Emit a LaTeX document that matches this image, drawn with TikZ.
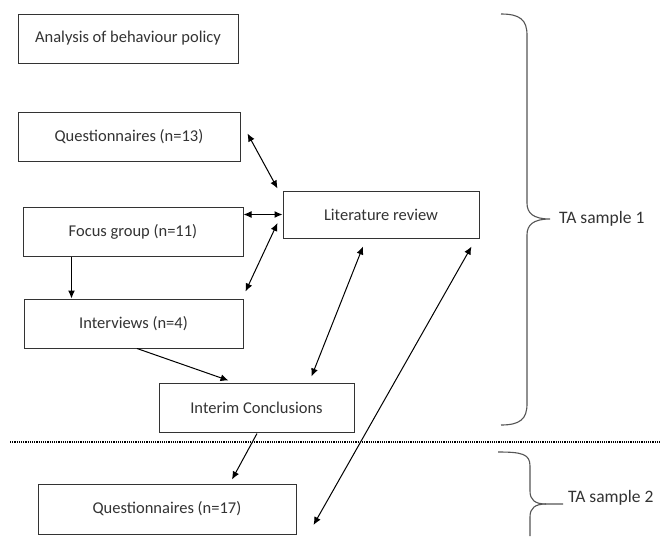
\documentclass[tikz,border=0pt]{standalone}
\usepackage{fontspec}
\setmainfont{Carlito}
\usetikzlibrary{arrows.meta,calc}
\definecolor{boxline}{HTML}{333333}
\definecolor{bracecol}{HTML}{555555}
\begin{document}
\begin{tikzpicture}[x=1pt,y=-1pt,
  box/.style={draw=boxline,line width=1pt,rectangle,inner sep=0pt,align=center,
    font=\fontsize{16.5}{18}\selectfont,text=black!80},
  conn/.style={line width=1pt,-{Latex[length=8pt,width=7pt]}},
  dconn/.style={line width=1pt,{Latex[length=8pt,width=7pt]}-{Latex[length=8pt,width=7pt]}},
  bracestyle/.style={draw=bracecol,line width=1.1pt},
  lab/.style={anchor=west,font=\fontsize{17.5}{19}\selectfont,text=black!80,inner sep=0pt}]
\useasboundingbox[fill=white] (0,0) rectangle (661,536);

\node[box,minimum width=220,minimum height=49] (abp) at (128,38.5) {Analysis of behaviour policy};
\node[box,minimum width=222,minimum height=49] (q13) at (129,136.5) {Questionnaires (n=13)};
\node[box,minimum width=220,minimum height=49] (fg) at (133,231.5) {Focus group (n=11)};
\node[box,minimum width=196,minimum height=47] (lit) at (381,214.5) {Literature review};
\node[box,minimum width=219,minimum height=49] (iv) at (133.5,323.5) {Interviews (n=4)};
\node[box,minimum width=195,minimum height=49] (ic) at (256.5,407.5) {Interim Conclusions};
\node[box,minimum width=258,minimum height=50] (q17) at (167,509) {Questionnaires (n=17)};

% connectors
\draw[dconn] ($(q13.east)+(7,-3)$) -- ($(lit.north west)+(-5,-2)$);
\draw[dconn] (fg.east |- lit.west) -- (lit.west);
\draw[dconn] ($(iv.north east)+(2,-7)$) -- ($(lit.west)+(-5,8.5)$);
\draw[conn] ($(fg.south west)+(49,0)$) -- ($(iv.north west)+(48,0)$);
\draw[conn] ($(iv.south)+(3.5,0)$) -- ($(ic.north west)+(70,-2)$);
\draw[dconn] ($(lit.south)+(-18,8)$) -- ($(ic.north east)+(-43,-6)$);
\draw[dconn] ($(lit.south east)+(-8,8)$) -- ($(q17.east)+(17,16)$);
\draw[conn] ($(ic.south)+(0.5,1)$) -- ($(q17.north)+(65,-4)$);

% dotted separator
\coordinate (dl) at (10,442);
\coordinate (dr) at (661,442);
\draw[line width=1.6pt,dash pattern=on 1.1pt off 1.1pt] (dl) -- (dr);

% braces
\draw[bracestyle] (501,14) .. controls (520,14) and (527,20) .. (527,35)
  -- (527,203) .. controls (527,213) and (533,219) .. (550,219)
  .. controls (533,219) and (527,225) .. (527,235)
  -- (527,404) .. controls (527,419) and (520,425) .. (501,425);
\draw[bracestyle] (498,452) .. controls (522,452) and (530,454) .. (530,466)
  -- (530,491) .. controls (530,500) and (535,504) .. (546,504) -- (563,504);
\draw[bracestyle] (546,504) .. controls (535,504) and (530,508) .. (530,517) -- (530,536);

\node[lab] (ta1) at (559,219) {TA sample 1};
\node[lab] (ta2) at (568,498) {TA sample 2};
\end{tikzpicture}
\end{document}
